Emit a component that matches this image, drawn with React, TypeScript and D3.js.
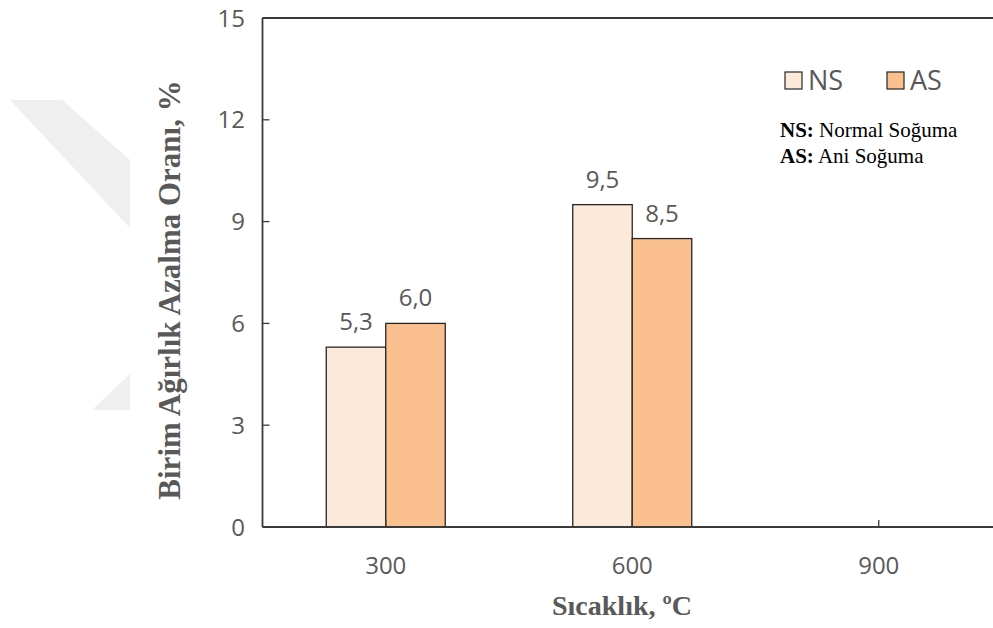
import React from "react";
import * as d3 from "d3";

const categories = ["300", "600", "900"];
const nsValues: (number | null)[] = [5.3, 9.5, null];
const asValues: (number | null)[] = [6.0, 8.5, null];
const yTicks = [0, 3, 6, 9, 12, 15];
const seriesNames = ["NS", "AS"];
const seriesNotes = [
  { key: "NS:", text: " Normal Soğuma" },
  { key: "AS:", text: " Ani Soğuma" },
];

const W = 993;
const H = 628;
const plotLeft = 262.5;
const plotTop = 18;
const plotBottom = 527;
const bandWidth = 246.5;
const barWidth = 59.5;

const colors = ["#FDE9D9", "#FAC090"];
const axisColor = "#3a3a3a";
const labelColor = "#595959";
const sansFont = "'Open Sans', sans-serif";
const serifFont = "'Liberation Serif', 'Times New Roman', serif";

export default function App() {
  const y = d3.scaleLinear().domain([0, 15]).range([plotBottom, plotTop]);
  const x = d3
    .scaleBand<string>()
    .domain(categories)
    .range([plotLeft, plotLeft + bandWidth * categories.length])
    .padding(0);

  const series = [nsValues, asValues];
  const fmt = (v: number) => d3.format(".1f")(v).replace(".", ",");

  return (
    <div>
      <style>{`body{margin:0}`}</style>
      <svg width={W} height={H} style={{ display: "block" }}>
        <rect x={0} y={0} width={W} height={H} fill="#fff" />
        {/* background watermark */}
        <g fill="#efefef">
          <polygon points="10,100 62,100 130,160 130,228" />
          <polygon points="92,410 130,374 130,410" />
        </g>

        {/* bars */}
        {categories.map((c, i) => {
          const cx = (x(c) as number) + x.bandwidth() / 2;
          return series.map((vals, s) => {
            const v = vals[i];
            if (v == null) return null;
            const bx = s === 0 ? cx - barWidth : cx;
            return (
              <g key={`${c}-${s}`}>
                <rect
                  x={bx}
                  y={y(v)}
                  width={barWidth}
                  height={y(0) - y(v)}
                  fill={colors[s]}
                  stroke="#262626"
                  strokeWidth={1.3}
                />
                <text
                  x={bx + barWidth / 2}
                  y={y(v) - 17}
                  textAnchor="middle"
                  fontFamily={sansFont}
                  fontSize={24}
                  fill={labelColor}
                >
                  {fmt(v)}
                </text>
              </g>
            );
          });
        })}

        {/* axes frame */}
        <line x1={plotLeft} x2={W} y1={plotTop} y2={plotTop} stroke={axisColor} strokeWidth={1.8} />
        <line x1={plotLeft} x2={plotLeft} y1={plotTop} y2={plotBottom} stroke={axisColor} strokeWidth={1.8} />
        <line x1={plotLeft} x2={W} y1={plotBottom} y2={plotBottom} stroke={axisColor} strokeWidth={1.8} />

        {/* y ticks */}
        {yTicks.map((t) => (
          <g key={t}>
            <line x1={plotLeft} x2={plotLeft + 7} y1={y(t)} y2={y(t)} stroke={axisColor} strokeWidth={1.3} />
            <text
              x={245}
              y={y(t)}
              dy="0.36em"
              textAnchor="end"
              fontFamily={sansFont}
              fontSize={24}
              fill={labelColor}
            >
              {t}
            </text>
          </g>
        ))}

        {/* x ticks */}
        {categories.map((c) => {
          const cx = (x(c) as number) + x.bandwidth() / 2;
          return (
            <g key={c}>
              <line x1={cx} x2={cx} y1={plotBottom} y2={plotBottom - 7} stroke={axisColor} strokeWidth={1.3} />
              <text
                x={cx}
                y={574}
                textAnchor="middle"
                fontFamily={sansFont}
                fontSize={24}
                fill={labelColor}
              >
                {c}
              </text>
            </g>
          );
        })}

        {/* axis titles */}
        <text
          x={622}
          y={615}
          textAnchor="middle"
          fontFamily={serifFont}
          fontWeight="bold"
          fontSize={28}
          fill={labelColor}
        >
          Sıcaklık, ºC
        </text>
        <text
          transform={`translate(180,290) rotate(-90)`}
          textAnchor="middle"
          fontFamily={serifFont}
          fontWeight="bold"
          fontSize={31}
          fill={labelColor}
        >
          Birim Ağırlık Azalma Oranı, %
        </text>

        {/* legend */}
        {seriesNames.map((n, s) => {
          const lx = 785 + s * 102;
          return (
            <g key={n}>
              <rect x={lx} y={72} width={17} height={17} fill={colors[s]} stroke="#262626" strokeWidth={1.2} />
              <text x={lx + 23} y={90} fontFamily={sansFont} fontSize={27} fill={labelColor}>
                {n}
              </text>
            </g>
          );
        })}
        {seriesNotes.map((n, i) => (
          <text key={n.key} x={780} y={137 + i * 26} fontFamily={serifFont} fontSize={21} fill="#000">
            <tspan fontWeight="bold">{n.key}</tspan>
            <tspan>{n.text}</tspan>
          </text>
        ))}
      </svg>
    </div>
  );
}
